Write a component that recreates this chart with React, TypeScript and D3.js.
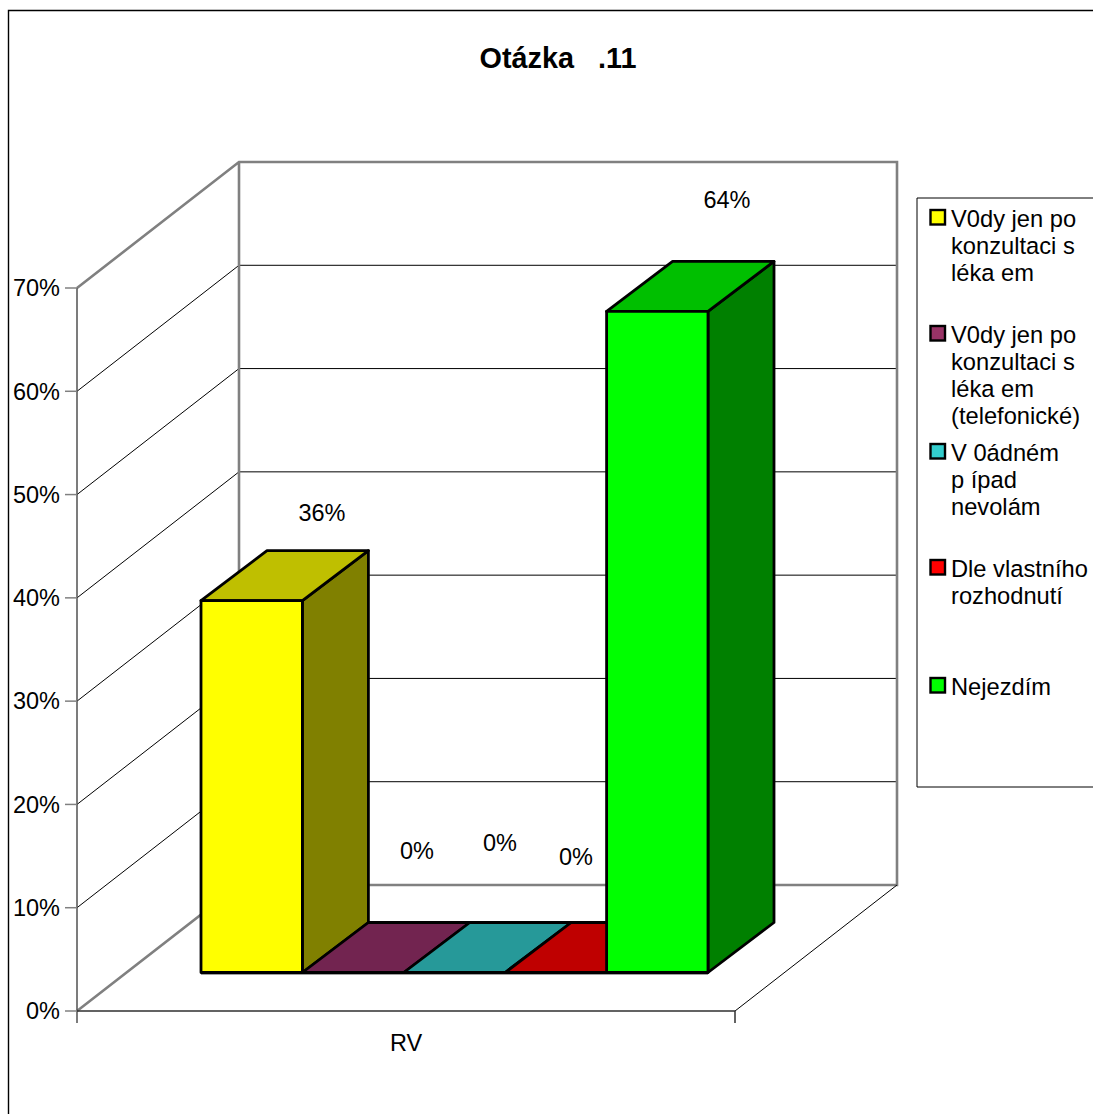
import React from "react";
import * as d3 from "d3";

// Survey question 11: answer shares for the single category "RV".
const chartTitle = "Otázka   .11";
const categories = ["RV"];
const seriesNames = ["Vždy1", "Vždy2", "Žádný", "Dle", "Nejezdím"];
const seriesValues = [36, 0, 0, 0, 64];
const yTicks = [0, 10, 20, 30, 40, 50, 60, 70];
const legendLines = [
  ["V0dy jen po", "konzultaci s", "léka em"],
  ["V0dy jen po", "konzultaci s", "léka em", "(telefonické)"],
  ["V 0ádném", "p ípad", "nevolám"],
  ["Dle vlastního", "rozhodnutí"],
  ["Nejezdím"],
];
const frontColors = ["#ffff00", "#993366", "#33cccc", "#ff0000", "#00ff00"];
const topColors = ["#bfbf00", "#722450", "#269999", "#bf0000", "#00bf00"];
const sideColors = ["#808000", "#4d1a33", "#1a6666", "#800000", "#008000"];

// Layout of the oblique box and its contents.
const FONT = "'Liberation Sans', Arial, sans-serif";
const FS = 23.5;
const WALL = { x0: 77, x1: 735, depthX: 162, depthY: -126 };
const BAR = { x0: 201, x1: 708, baseY: 972.5, depthX: 66, depthY: -50 };
const GRAY = "#808080";
const labelCentres = [
  { x: 322, y: 513 },
  { x: 417, y: 851 },
  { x: 500, y: 843 },
  { x: 576, y: 857 },
  { x: 727, y: 200 },
];
const legendTops = [219, 335, 453, 569, 687];
const LEGEND_LEAD = 27;

const y = d3.scaleLinear().domain([0, 70]).range([1011, 288]);
const barX = d3.scaleBand<number>().domain(d3.range(seriesValues.length)).range([BAR.x0, BAR.x1]);
const poly = d3.line();
const unitHeight = (v: number) => y(0) - y(v);

export default function App() {
  const bw = barX.bandwidth();
  const gx = WALL.x0 + WALL.depthX;
  const x2 = WALL.x1 + WALL.depthX;
  const gy = (v: number) => y(v) + WALL.depthY;
  return (
    <svg
      width={1093}
      height={1114}
      style={{ position: "absolute", left: 0, top: 0, display: "block", background: "#fff" }}
      fontFamily={FONT}
      fontSize={FS}
    >
      {/* chart frame, open on the right and bottom edges */}
      <path d="M8.5,1114V10.5H1093" fill="none" stroke="#000" strokeWidth={1.4} />
      <text
        x={558}
        y={58}
        dy="0.35em"
        textAnchor="middle"
        fontWeight="bold"
        fontSize={28.8}
        style={{ whiteSpace: "pre" }}
      >
        {chartTitle}
      </text>

      {/* gridlines on the side and back walls */}
      {yTicks.slice(1, -1).map((t) => (
        <path
          key={t}
          d={`M${WALL.x0},${y(t)}L${gx},${gy(t)}H${x2}`}
          fill="none"
          stroke="#000"
          strokeWidth={1}
        />
      ))}

      {/* wall outlines */}
      <path
        d={`M${WALL.x0},${y(70)}L${gx},${gy(70)}H${x2}V${gy(0)}H${gx}M${gx},${gy(70)}V${gy(0)}L${WALL.x0},${y(0)}`}
        fill="none"
        stroke={GRAY}
        strokeWidth={2.6}
      />
      <path d={`M${WALL.x1},${y(0)}L${x2},${gy(0)}`} fill="none" stroke="#000" strokeWidth={1} />

      {/* axes */}
      <path d={`M${WALL.x0},${y(70)}V${y(0) + 12}`} fill="none" stroke="#505050" strokeWidth={1.5} />
      <path d={`M${WALL.x0},${y(0)}H${WALL.x1}V${y(0) + 12}`} fill="none" stroke="#303030" strokeWidth={1.5} />
      {yTicks.map((t) => (
        <g key={t}>
          <line x1={WALL.x0 - 12} x2={WALL.x0} y1={y(t)} y2={y(t)} stroke={GRAY} strokeWidth={1.5} />
          <text x={60} y={y(t)} dy="0.35em" textAnchor="end">
            {t}%
          </text>
        </g>
      ))}
      <text x={(WALL.x0 + WALL.x1) / 2} y={1043} dy="0.35em" textAnchor="middle">
        {categories[0]}
      </text>

      {/* bars: front, top and side faces */}
      <line x1={BAR.x0} x2={BAR.x1} y1={BAR.baseY + 1.5} y2={BAR.baseY + 1.5} stroke={GRAY} strokeWidth={1.5} />
      {seriesValues.map((v, i) => {
        const x0 = barX(i)!;
        const x1 = x0 + bw;
        const base = BAR.baseY;
        const top = base - unitHeight(v);
        const dx = BAR.depthX;
        const dy = BAR.depthY;
        const common = { stroke: "#000", strokeWidth: 2.8, strokeLinejoin: "round" as const };
        return (
          <g key={seriesNames[i]}>
            {v > 0 && (
              <path
                d={poly([[x1, base], [x1 + dx, base + dy], [x1 + dx, top + dy], [x1, top]])! + "Z"}
                fill={sideColors[i]}
                {...common}
              />
            )}
            <path
              d={poly([[x0, top], [x1, top], [x1 + dx, top + dy], [x0 + dx, top + dy]])! + "Z"}
              fill={topColors[i]}
              {...common}
            />
            {v > 0 && (
              <path
                d={poly([[x0, base], [x1, base], [x1, top], [x0, top]])! + "Z"}
                fill={frontColors[i]}
                {...common}
              />
            )}
          </g>
        );
      })}

      {/* value labels */}
      {seriesValues.map((v, i) => (
        <text key={i} x={labelCentres[i].x} y={labelCentres[i].y} dy="0.35em" textAnchor="middle">
          {v}%
        </text>
      ))}

      {/* legend */}
      <path d="M1093,198H917V787H1093" fill="none" stroke="#000" strokeWidth={1} />
      {legendLines.map((lines, i) => (
        <g key={i}>
          <rect
            x={930.5}
            y={legendTops[i] - 9}
            width={14.5}
            height={14.5}
            fill={frontColors[i]}
            stroke="#000"
            strokeWidth={2.4}
          />
          {lines.map((line, j) => (
            <text
              key={j}
              x={951}
              y={legendTops[i] + j * LEGEND_LEAD}
              dy="0.35em"
              fontSize={23.7}
              style={{ whiteSpace: "pre" }}
            >
              {line}
            </text>
          ))}
        </g>
      ))}
    </svg>
  );
}
